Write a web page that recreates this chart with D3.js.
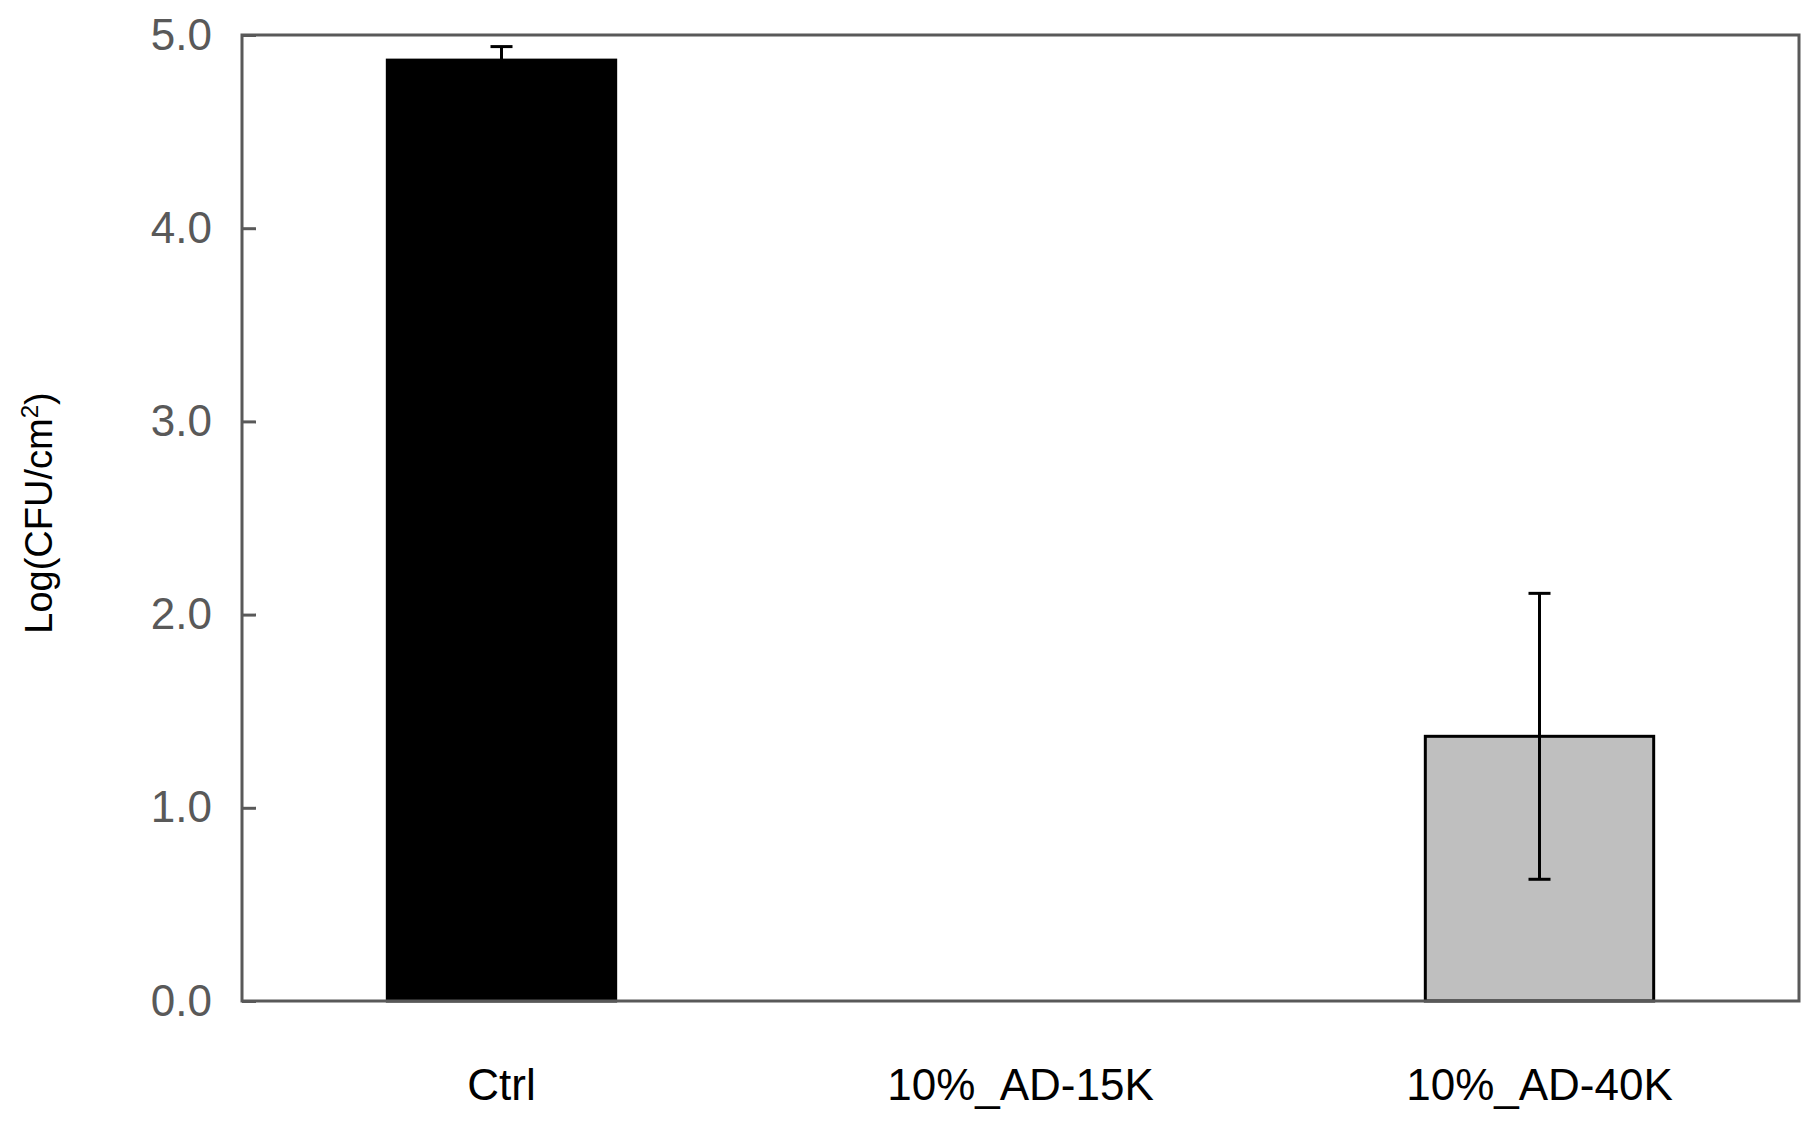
<!DOCTYPE html>
<html>
<head>
<meta charset="utf-8">
<style>body{margin:0;background:#fff}</style>
</head>
<body>
<script src="https://cdn.jsdelivr.net/npm/d3@7"></script>
<script>
var categories = ["Ctrl", "10%_AD-15K", "10%_AD-40K"];
var values = [4.87, 0, 1.37];
var errors = [0.07, 0, 0.74];
var fills = ["#000000", "#ffffff", "#bfbfbf"];
var yTicks = [0, 1, 2, 3, 4, 5];

var W = 1806, H = 1130;
var m = {left: 242, right: 7, top: 35, bottom: 129};
var svg = d3.select("body").append("svg").attr("width", W).attr("height", H)
  .style("font-family", "Arial, 'Liberation Sans', sans-serif");

var x = d3.scaleBand().domain(categories).range([m.left, W - m.right]).paddingInner(0.56).paddingOuter(0.28);
var y = d3.scaleLinear().domain([0, 5]).range([H - m.bottom, m.top]);

// bars
svg.selectAll("rect.bar").data(values).enter().append("rect")
  .attr("x", function(d, i){ return x(categories[i]); })
  .attr("y", function(d){ return y(d); })
  .attr("width", x.bandwidth())
  .attr("height", function(d){ return y(0) - y(d); })
  .attr("fill", function(d, i){ return fills[i]; })
  .attr("stroke", "#000").attr("stroke-width", function(d){ return d > 0 ? 3 : 0; });

// error bars
var g = svg.selectAll("g.err").data(values).enter().filter(function(d, i){ return errors[i] > 0; })
  .append("g").attr("stroke", "#000").attr("stroke-width", 3);
g.each(function(d){
  var i = values.indexOf(d);
  var cx = x(categories[i]) + x.bandwidth() / 2;
  var s = d3.select(this);
  var lo = i === 0 ? d : d - errors[i];
  s.append("line").attr("x1", cx).attr("x2", cx).attr("y1", y(lo)).attr("y2", y(d + errors[i]));
  s.append("line").attr("x1", cx - 11).attr("x2", cx + 11).attr("y1", y(d + errors[i])).attr("y2", y(d + errors[i]));
  if (i !== 0) s.append("line").attr("x1", cx - 11).attr("x2", cx + 11).attr("y1", y(lo)).attr("y2", y(lo));
});

// frame
svg.append("rect").attr("x", m.left).attr("y", m.top)
  .attr("width", W - m.right - m.left).attr("height", H - m.bottom - m.top)
  .attr("fill", "none").attr("stroke", "#595959").attr("stroke-width", 3);

// y axis
var ya = svg.append("g").attr("transform", "translate(" + m.left + ",0)")
  .call(d3.axisRight(y).tickValues(yTicks).tickFormat(d3.format(".1f")).tickSize(14).tickPadding(-60));
ya.select(".domain").remove();
ya.selectAll("line").attr("stroke", "#595959").attr("stroke-width", 3);
ya.selectAll("text").attr("fill", "#595959").attr("font-size", 44).attr("text-anchor", "end")
  .attr("x", -30);

// x labels
svg.selectAll("text.cat").data(categories).enter().append("text")
  .attr("x", function(d){ return x(d) + x.bandwidth() / 2; })
  .attr("y", 1100).attr("text-anchor", "middle").attr("font-size", 44).attr("fill", "#000")
  .text(function(d){ return d; });

// y title
var t = svg.append("text").attr("transform", "translate(52,513) rotate(-90)")
  .attr("text-anchor", "middle").attr("font-size", 38).attr("fill", "#000");
t.append("tspan").text("Log(CFU/cm");
t.append("tspan").attr("font-size", 24).attr("dy", -14).text("2");
t.append("tspan").attr("dy", 14).text(")");
</script>
</body>
</html>
